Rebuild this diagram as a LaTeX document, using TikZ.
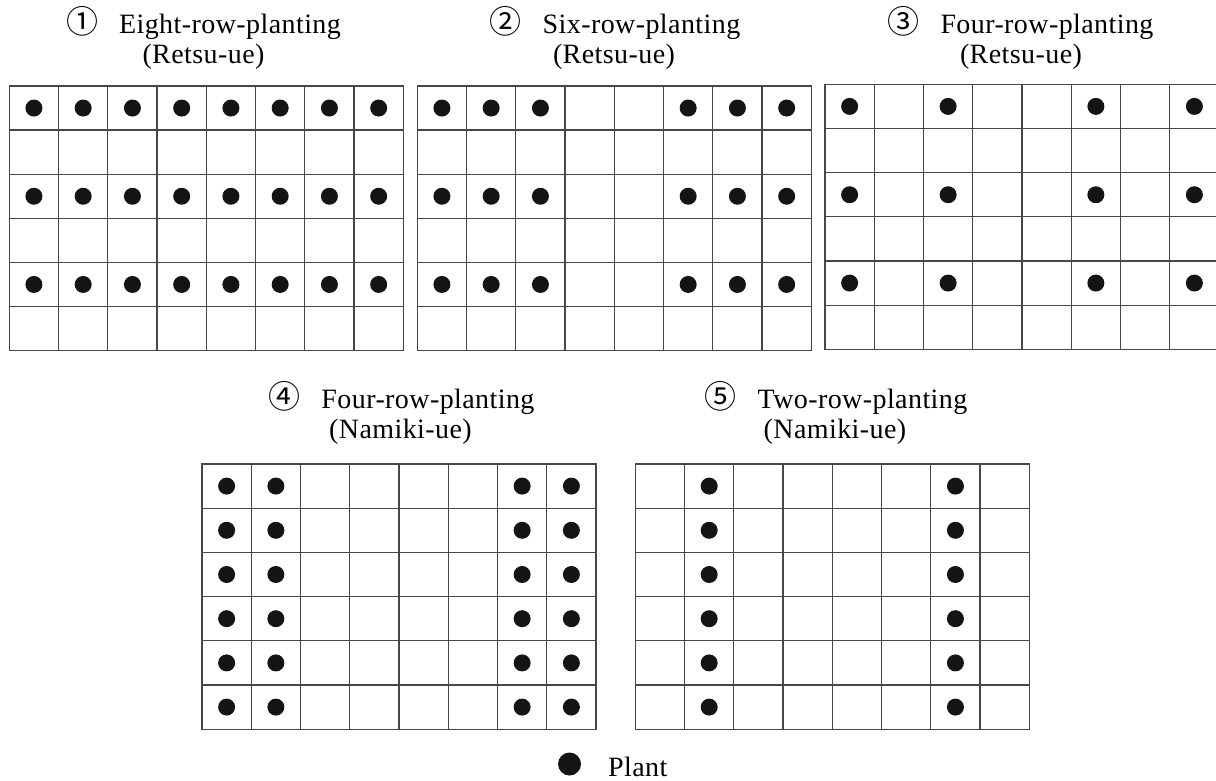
\documentclass[tikz,border=0pt]{standalone}
\usepackage{fontspec}
\setmainfont{Liberation Serif}[LetterSpace=1.5]
\newfontfamily\cjkfont{Noto Sans CJK JP}
\tikzset{
  gridline/.style={draw=black!72, line width=1.3pt},
  plant/.style={fill=black!92},
  ttl/.style={font=\fontsize{28}{28}\selectfont, anchor=base, inner sep=0pt},
  legendtext/.style={font=\fontsize{28}{28}\selectfont, anchor=base west, inner sep=0pt},
}
\newcommand\cw{49.25}
\newcommand\cnum[1]{{\cjkfont\fontsize{32}{32}\selectfont #1}\hspace{0.75em}}
% #1 x0, #2 y0, #3 row height, #4 dot rows, #5 dot columns
\newcommand\plantgrid[5]{%
  \foreach \i in {1,...,7} \draw[gridline] ({#1+\i*\cw},#2) -- ({#1+\i*\cw},{#2+6*#3});
  \foreach \j in {1,...,5} \draw[gridline] (#1,{#2+\j*#3}) -- ({#1+8*\cw},{#2+\j*#3});
  \draw[gridline] (#1,#2) rectangle ({#1+8*\cw},{#2+6*#3});
  \foreach \r in {#4} \foreach \c in {#5}
    \fill[plant] ({#1+(\c+0.5)*\cw},{#2+(\r+0.5)*#3}) circle[radius=8.5];
}
\begin{document}
\begin{tikzpicture}[x=1pt,y=-1pt]
\useasboundingbox (0,0) rectangle (1216,780);
\clip (0,0) rectangle (1216,780);

% titles, top row
\node[ttl] (t1a) at (203.5,33) {\cnum{①}Eight-row-planting};
\node[ttl] (t1b) at (203.5,63) {(Retsu-ue)};
\node[ttl] (t2a) at (615,33) {\cnum{②}Six-row-planting};
\node[ttl] (t2b) at (614,63) {(Retsu-ue)};
\node[ttl] (t3a) at (1020.5,33) {\cnum{③}Four-row-planting};
\node[ttl] (t3b) at (1021,63) {(Retsu-ue)};

% titles, bottom row
\node[ttl] (t4a) at (401.5,408) {\cnum{④}Four-row-planting};
\node[ttl] (t4b) at (400.5,438) {(Namiki-ue)};
\node[ttl] (t5a) at (836,408) {\cnum{⑤}Two-row-planting};
\node[ttl] (t5b) at (835,438) {(Namiki-ue)};

% grids
\plantgrid{9.3}{86}{44.1}{0,2,4}{0,...,7}
\plantgrid{417.3}{86}{44.1}{0,2,4}{0,1,2,5,6,7}
\plantgrid{825}{84.3}{44.17}{0,2,4}{0,2,5,7}
\plantgrid{202}{464}{44.2}{0,...,5}{0,1,6,7}
\plantgrid{635.3}{464}{44.2}{0,...,5}{1,6}

% legend
\fill[plant] (569.5,764) circle[radius=11.5];
\node[legendtext] (leg) at (608,776) {Plant};
\end{tikzpicture}
\end{document}
